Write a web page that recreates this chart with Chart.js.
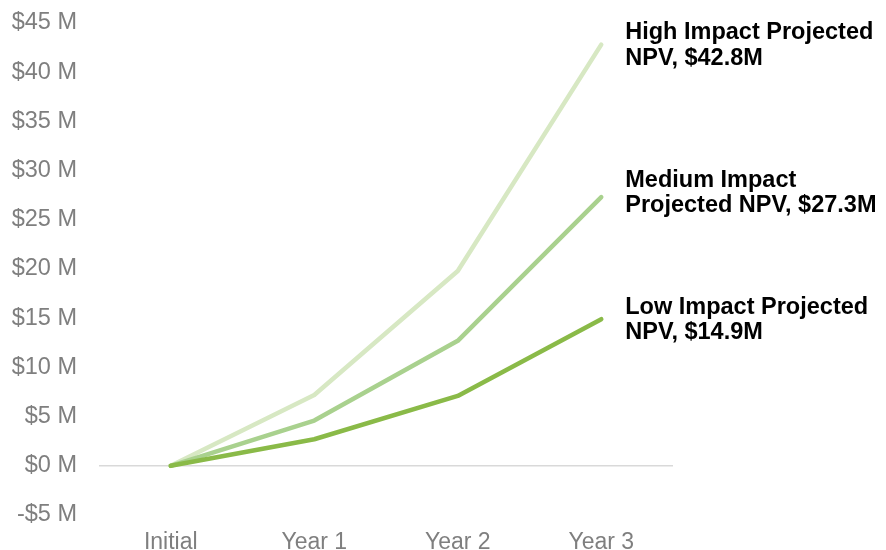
<!DOCTYPE html>
<html>
<head>
<meta charset="utf-8">
<script src="https://cdn.jsdelivr.net/npm/chart.js@4/dist/chart.umd.min.js"></script>
<style>
html,body{margin:0;padding:0;background:#fff;}
#wrap{width:886px;height:550px;position:relative;}
</style>
</head>
<body>
<div id="wrap"><canvas id="c" width="886" height="550"></canvas></div>
<script>
const categories = ["Initial", "Year 1", "Year 2", "Year 3"];
const highValues = [0, 7.2, 19.8, 42.8];
const mediumValues = [0, 4.6, 12.7, 27.3];
const lowValues = [0, 2.7, 7.1, 14.9];
const highLabel = ["High Impact Projected", "NPV, $42.8M"];
const mediumLabel = ["Medium Impact", "Projected NPV, $27.3M"];
const lowLabel = ["Low Impact Projected", "NPV, $14.9M"];
const yMin = -5, yMax = 45, yStep = 5;

const endLabels = {
  id: 'endLabels',
  afterDatasetsDraw(chart) {
    const ctx = chart.ctx;
    ctx.save();
    ctx.font = 'bold 23.5px "Liberation Sans", Arial, sans-serif';
    ctx.fillStyle = '#000';
    ctx.textAlign = 'left';
    ctx.textBaseline = 'middle';
    chart.data.datasets.forEach((ds, i) => {
      const meta = chart.getDatasetMeta(i);
      const pt = meta.data[meta.data.length - 1];
      const lines = ds.endLabel;
      const lh = 25.5;
      const startY = pt.y + ds.labelShift - (lines.length - 1) * lh / 2;
      lines.forEach((t, k) => ctx.fillText(t, pt.x + 24, startY + k * lh));
    });
    ctx.restore();
  }
};

new Chart(document.getElementById('c'), {
  type: 'line',
  data: {
    labels: categories,
    datasets: [
      { label: 'High', data: highValues, borderColor: '#d7e8c3', endLabel: highLabel, labelShift: 1, order: 3 },
      { label: 'Medium', data: mediumValues, borderColor: '#a9d18e', endLabel: mediumLabel, labelShift: -4, order: 2 },
      { label: 'Low', data: lowValues, borderColor: '#8aba48', endLabel: lowLabel, labelShift: 1, order: 1 }
    ].map(d => Object.assign(d, { borderWidth: 4.5, pointRadius: 0, tension: 0, borderCapStyle: 'round', borderJoinStyle: 'round', fill: false }))
  },
  options: {
    responsive: false,
    animation: false,
    devicePixelRatio: 1,
    layout: { padding: { top: 23, right: 213, left: 0, bottom: 0 } },
    plugins: { legend: { display: false }, tooltip: { enabled: false } },
    scales: {
      x: {
        offset: true,
        grid: { display: false, drawTicks: false },
        border: { display: false },
        ticks: { color: '#7f7f7f', padding: 14, font: { family: '"Liberation Sans", Arial, sans-serif', size: 23 } },
        afterFit(s) { s.height = 35; s.paddingLeft = 0; s.paddingRight = 0; }
      },
      y: {
        min: yMin, max: yMax,
        grid: {
          drawTicks: false,
          lineWidth: 1.5,
          color: c => (c.tick && c.tick.value === 0) ? '#d9d9d9' : 'rgba(0,0,0,0)'
        },
        border: { display: false },
        ticks: {
          stepSize: yStep,
          color: '#7f7f7f',
          padding: 22,
          font: { family: '"Liberation Sans", Arial, sans-serif', size: 23.5 },
          callback: v => (v < 0 ? '-$' + Math.abs(v) : '$' + v) + ' M'
        },
        afterFit(s) { s.width = 99; s.paddingTop = 0; s.paddingBottom = 0; }
      }
    }
  },
  plugins: [endLabels]
});
</script>
</body>
</html>
